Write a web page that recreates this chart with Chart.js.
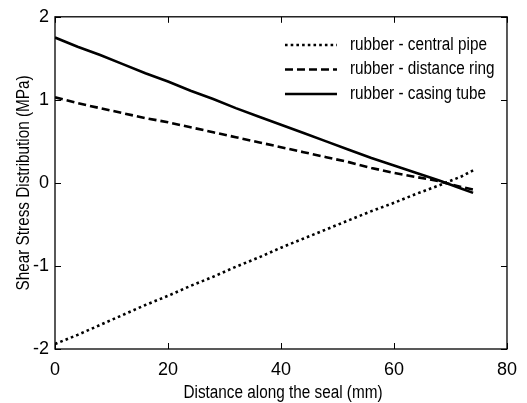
<!DOCTYPE html>
<html>
<head>
<meta charset="utf-8">
<script src="https://cdn.jsdelivr.net/npm/chart.js@4.4.1/dist/chart.umd.min.js"></script>
<style>
  html, body { margin: 0; padding: 0; background: #fff; }
  #wrap { width: 527px; height: 403px; }
</style>
</head>
<body>
<div id="wrap"><canvas id="c" width="527" height="403"></canvas></div>
<script>
// Distance along the seal (mm)
const distance = [0, 4, 8, 12, 16, 20, 24, 28, 32, 36, 40, 44, 48, 52, 56, 60, 64, 68, 72, 74];

// Shear stress (MPa) at each interface
const centralPipe = [-1.94, -1.83, -1.71, -1.59, -1.47, -1.36, -1.24, -1.13, -1.01, -0.90,
                     -0.78, -0.67, -0.56, -0.45, -0.34, -0.24, -0.13, -0.03, 0.08, 0.15];
const distanceRing = [1.03, 0.96, 0.90, 0.84, 0.78, 0.73, 0.67, 0.61, 0.55, 0.49,
                      0.43, 0.37, 0.31, 0.25, 0.18, 0.12, 0.07, 0.02, -0.05, -0.08];
const casingTube = [1.75, 1.64, 1.54, 1.43, 1.32, 1.22, 1.11, 1.01, 0.90, 0.80,
                    0.70, 0.60, 0.50, 0.40, 0.30, 0.21, 0.12, 0.03, -0.07, -0.12];

const seriesNames = ['rubber - central pipe', 'rubber - distance ring', 'rubber - casing tube'];
const xTicks = [0, 20, 40, 60, 80];
const yTicks = [-2, -1, 0, 1, 2];
const xTitle = 'Distance along the seal (mm)';
const yTitle = 'Shear Stress Distribution (MPa)';

const FONT = '"Liberation Sans", Arial, sans-serif';
const SQUEEZE = 0.85;   // narrow letterforms for titles and legend

function toPoints(ys) {
  return distance.map((x, i) => ({ x: x, y: ys[i] }));
}

function narrowText(ctx, text, x, y, size, align, angle) {
  ctx.save();
  ctx.translate(x, y);
  if (angle) ctx.rotate(angle);
  ctx.scale(SQUEEZE, 1);
  ctx.font = size + 'px ' + FONT;
  ctx.textAlign = align;
  ctx.textBaseline = 'alphabetic';
  ctx.fillStyle = '#000';
  ctx.fillText(text, 0, 0);
  ctx.restore();
}

// Boxed frame with inward tick marks on all four sides, plus axis titles
const framePlugin = {
  id: 'frame',
  afterDraw(chart) {
    const { ctx, chartArea: a, scales } = chart;
    ctx.save();
    ctx.strokeStyle = '#000';
    ctx.lineWidth = 1.3;
    ctx.strokeRect(a.left, a.top, a.right - a.left, a.bottom - a.top);
    const tl = 6;
    ctx.lineWidth = 1;
    ctx.beginPath();
    xTicks.forEach(v => {
      const px = Math.round(scales.x.getPixelForValue(v)) + 0.5;
      ctx.moveTo(px, a.bottom); ctx.lineTo(px, a.bottom - tl);
      ctx.moveTo(px, a.top); ctx.lineTo(px, a.top + tl);
    });
    yTicks.forEach(v => {
      const py = Math.round(scales.y.getPixelForValue(v)) + 0.5;
      ctx.moveTo(a.left, py); ctx.lineTo(a.left + tl, py);
      ctx.moveTo(a.right, py); ctx.lineTo(a.right - tl, py);
    });
    ctx.stroke();
    ctx.restore();

    narrowText(ctx, xTitle, (a.left + a.right) / 2 + 2, a.bottom + 49, 18, 'center', 0);
    narrowText(ctx, yTitle, a.left - 26, (a.top + a.bottom) / 2, 18, 'center', -Math.PI / 2);
  }
};

// Line-sample legend in the upper right of the plot
const legendPlugin = {
  id: 'lineLegend',
  afterDraw(chart) {
    const { ctx, chartArea: a } = chart;
    const x0 = a.right - 222, x1 = a.right - 170, tx = a.right - 157;
    chart.data.datasets.forEach((ds, i) => {
      const base = a.top + 32.7 + i * 24.5;
      const y = base - 4.5;
      ctx.save();
      ctx.strokeStyle = ds.borderColor;
      ctx.lineWidth = ds.borderWidth;
      ctx.setLineDash(ds.borderDash || []);
      ctx.lineCap = 'butt';
      ctx.beginPath();
      ctx.moveTo(x0, y); ctx.lineTo(x1, y);
      ctx.stroke();
      ctx.restore();
      narrowText(ctx, ds.label, tx, base, 18, 'left', 0);
    });
  }
};

new Chart(document.getElementById('c'), {
  type: 'line',
  data: {
    datasets: [
      { label: seriesNames[0], data: toPoints(centralPipe), borderColor: '#000',
        borderWidth: 2.6, borderDash: [2.6, 3.1], pointRadius: 0, tension: 0, fill: false },
      { label: seriesNames[1], data: toPoints(distanceRing), borderColor: '#000',
        borderWidth: 2.6, borderDash: [8, 4], pointRadius: 0, tension: 0, fill: false },
      { label: seriesNames[2], data: toPoints(casingTube), borderColor: '#000',
        borderWidth: 2.6, pointRadius: 0, tension: 0, fill: false }
    ]
  },
  options: {
    responsive: false,
    animation: false,
    layout: { padding: { left: 0, right: 20, top: 14, bottom: 0 } },
    plugins: { legend: { display: false }, tooltip: { enabled: false } },
    scales: {
      x: {
        type: 'linear', min: 0, max: 80,
        afterBuildTicks(s) { s.ticks = xTicks.map(v => ({ value: v })); },
        afterFit(s) { s.height = 54; },
        grid: { display: false, drawTicks: false },
        border: { display: false },
        ticks: { color: '#000', font: { family: FONT, size: 18 }, padding: 10, maxRotation: 0 },
        title: { display: false }
      },
      y: {
        type: 'linear', min: -2, max: 2,
        afterBuildTicks(s) { s.ticks = yTicks.map(v => ({ value: v })); },
        afterFit(s) { s.width = 55; },
        grid: { display: false, drawTicks: false },
        border: { display: false },
        ticks: { color: '#000', font: { family: FONT, size: 18 }, padding: 6 },
        title: { display: false }
      }
    }
  },
  plugins: [framePlugin, legendPlugin]
});
</script>
</body>
</html>
